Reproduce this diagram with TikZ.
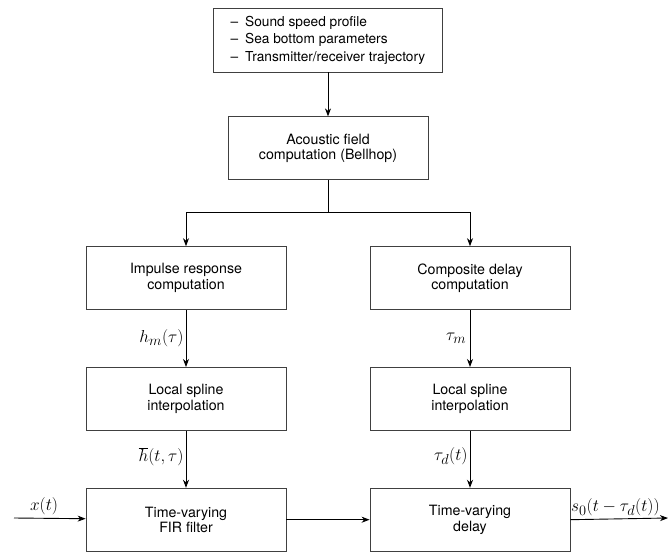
\documentclass[tikz,border=0pt]{standalone}
\usepackage{fontspec}
\setmainfont{TeX Gyre Heros}
\usepackage{tikz}
\usetikzlibrary{positioning,arrows.meta}

\tikzset{
  blk/.style={draw=black!75, line width=0.8pt, minimum width=200pt, minimum height=63pt,
    align=center, font=\fontsize{14.2}{15.5}\selectfont},
  sig/.style={line width=0.9pt, -{Stealth[length=8pt,width=6pt,inset=2.5pt]}},
  wire/.style={line width=0.9pt},
  lbl/.style={font=\fontsize{19}{23}\selectfont},
}

\begin{document}
\begin{tikzpicture}[x=1pt,y=1pt]
  \useasboundingbox (0,0) rectangle (668,-553);
  \node[blk, minimum width=229pt, minimum height=64pt, align=left,
        font=\fontsize{13.7}{17.5}\selectfont] (params) at (328,-40)
    {--\enspace Sound speed profile\\ --\enspace Sea bottom parameters\\ --\enspace Transmitter/receiver trajectory};
  \node[blk] (acoustic) [below=44pt of params] {Acoustic field\\ computation (Bellhop)};
  \coordinate [below=32pt of acoustic] (split);
  \node[blk] (impulse) [below=66pt of acoustic, xshift=-142pt] {Impulse response\\ computation};
  \node[blk] (composite) [below=66pt of acoustic, xshift=142pt] {Composite delay\\ computation};
  \node[blk] (splineh) [below=57pt of impulse] {Local spline\\ interpolation};
  \node[blk] (splinet) [below=57pt of composite] {Local spline\\ interpolation};
  \node[blk] (fir) [below=57pt of splineh] {Time-varying\\ FIR filter};
  \node[blk] (delay) [below=57pt of splinet] {Time-varying\\ delay};
  \coordinate (in) at (14,-518);
  \coordinate (out) at (668,-518);

  \draw[sig] (params) -- (acoustic);
  \draw[wire] (acoustic) -- (split);
  \draw[sig] (split) -| (impulse);
  \draw[sig] (split) -| (composite);
  \draw[sig] (impulse) -- node[lbl, left, inner xsep=2pt] {$h_m(\tau)$} (splineh);
  \draw[sig] (composite) -- node[lbl, left] {$\tau_m$} (splinet);
  \draw[sig] (splineh) -- node[lbl, left, pos=0.45, inner xsep=2pt] {$\overline{h}(t,\tau)$} (fir);
  \draw[sig] (splinet) -- node[lbl, left, pos=0.45, inner xsep=2pt] {$\tau_d(t)$} (delay);
  \draw[sig] (in) -- node[lbl, above, pos=0.42] {$x(t)$} (fir);
  \draw[sig] (fir) -- (delay);
  \draw[sig] (delay.east) -- (out);
  \node[lbl, anchor=south west, inner xsep=0.5pt] (outlbl) at (delay.east) {$s_0(t-\tau_d(t))$};
\end{tikzpicture}
\end{document}
